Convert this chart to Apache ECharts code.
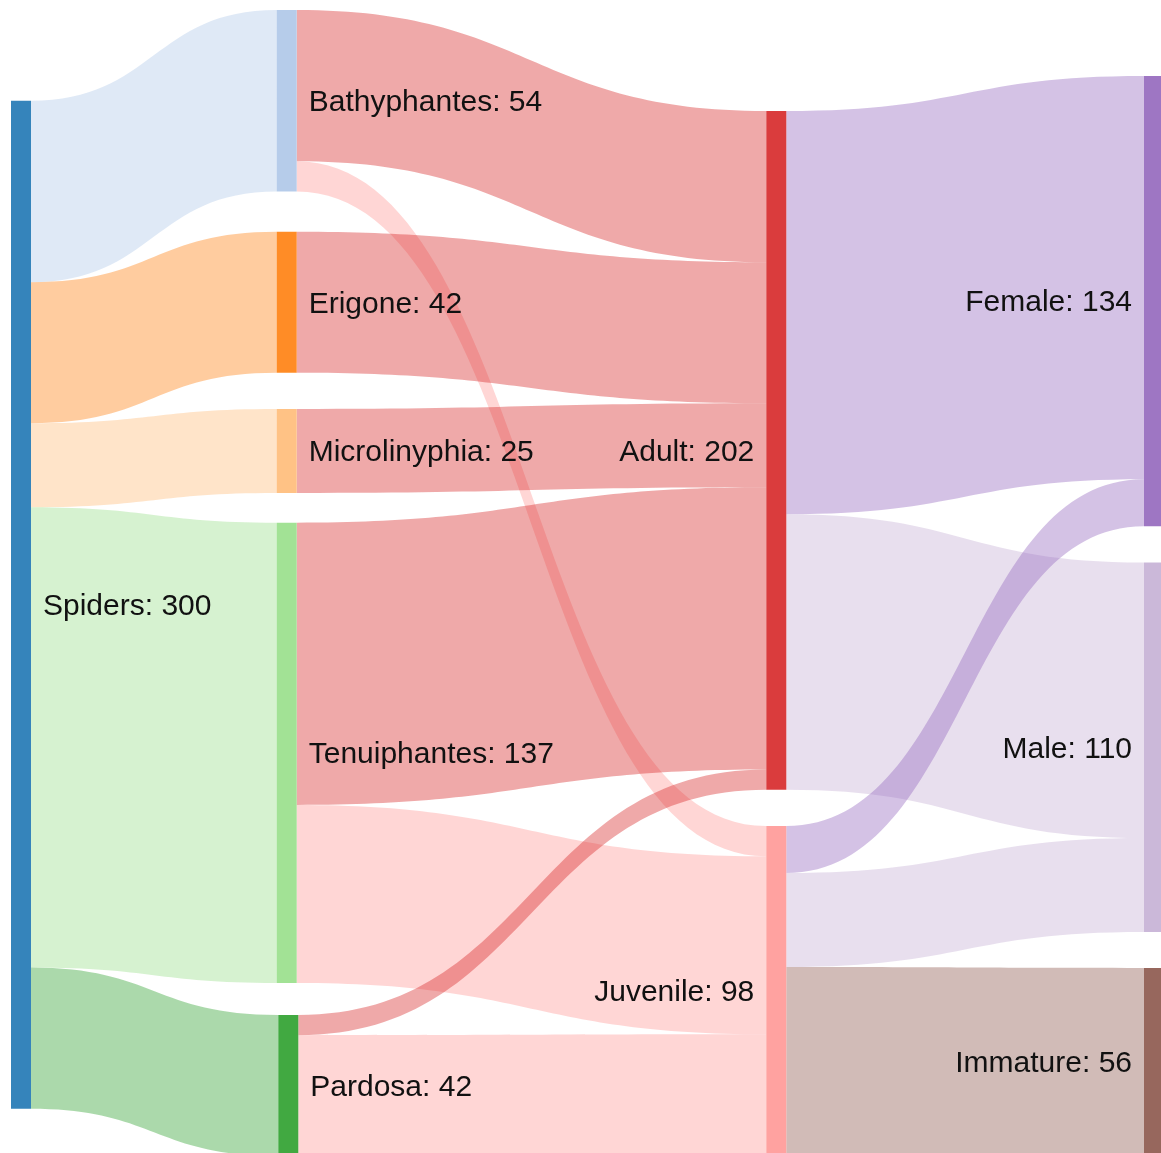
<!DOCTYPE html>
<html>
<head>
<meta charset="utf-8">
<title>Spiders sankey</title>
<script src="https://cdn.jsdelivr.net/npm/echarts@6/dist/echarts.min.js"></script>
<style>
  html, body { margin: 0; padding: 0; background: #fff; }
  #chart { width: 1161px; height: 1153px; }
</style>
</head>
<body>
<div id="chart"></div>
<script>
// nodes, column by column
const nodeNames = [
  "Spiders",
  "Bathyphantes", "Erigone", "Microlinyphia", "Tenuiphantes", "Pardosa",
  "Adult", "Juvenile",
  "Female", "Male", "Immature"
];

// flows: source, target, value
const linkSources = [
  "Spiders", "Spiders", "Spiders", "Spiders", "Spiders",
  "Bathyphantes", "Bathyphantes",
  "Erigone",
  "Microlinyphia",
  "Tenuiphantes", "Tenuiphantes",
  "Pardosa", "Pardosa",
  "Adult", "Adult",
  "Juvenile", "Juvenile", "Juvenile"
];
const linkTargets = [
  "Bathyphantes", "Erigone", "Microlinyphia", "Tenuiphantes", "Pardosa",
  "Adult", "Juvenile",
  "Adult",
  "Adult",
  "Adult", "Juvenile",
  "Adult", "Juvenile",
  "Female", "Male",
  "Female", "Male", "Immature"
];
const linkValues = [
  54, 42, 25, 137, 42,
  45, 9,
  42,
  25,
  84, 53,
  6, 36,
  120, 82,
  14, 28, 56
];

// styling (d3 category20)
const nodeColors = {
  Spiders: "#1f77b4", Bathyphantes: "#aec7e8", Erigone: "#ff7f0e",
  Microlinyphia: "#ffbb78", Tenuiphantes: "#98df8a", Pardosa: "#2ca02c",
  Adult: "#d62728", Juvenile: "#ff9896",
  Female: "#9467bd", Male: "#c5b0d5", Immature: "#8c564b"
};
// labels on the left side of the node for the two right columns
const labelLeft = ["Adult", "Juvenile", "Female", "Male", "Immature"];

// layout box and node placement (left / top edge in page pixels)
const boxLeft = 11, boxTop = 10, boxWidth = 1153, boxHeight = 1145;
const nodePos = {
  Spiders: [11, 100.7],
  Bathyphantes: [276.7, 10], Erigone: [276.7, 231.7], Microlinyphia: [276.7, 409],
  Tenuiphantes: [276.7, 522.7], Pardosa: [278.3, 1015],
  Adult: [766.3, 111], Juvenile: [766.3, 826],
  Female: [1144, 76], Male: [1144, 562.5], Immature: [1144, 968]
};

const nodes = nodeNames.map(function (name) {
  return {
    name: name,
    localX: (nodePos[name][0] - boxLeft) / boxWidth,
    localY: (nodePos[name][1] - boxTop) / boxHeight,
    itemStyle: { color: nodeColors[name] },
    label: { position: labelLeft.indexOf(name) >= 0 ? "left" : "right" }
  };
});

const links = linkValues.map(function (v, i) {
  return { source: linkSources[i], target: linkTargets[i], value: v };
});

const chart = echarts.init(document.getElementById("chart"), null, { renderer: "canvas" });
chart.setOption({
  animation: false,
  series: [
    {
      type: "sankey",
      left: boxLeft,
      top: boxTop,
      width: boxWidth,
      height: boxHeight,
      nodeWidth: 20,
      nodeGap: 34.25,
      layoutIterations: 0,
      draggable: false,
      emphasis: { disabled: true },
      itemStyle: { opacity: 0.9, borderWidth: 0 },
      lineStyle: { color: "target", opacity: 0.4, curveness: 0.5 },
      label: {
        show: true,
        distance: 12,
        offset: [0, 2],
        fontFamily: "Liberation Sans, Arial, sans-serif",
        fontSize: 30,
        color: "#111",
        formatter: "{b}: {c}"
      },
      data: nodes,
      links: links
    }
  ]
});
</script>
</body>
</html>
